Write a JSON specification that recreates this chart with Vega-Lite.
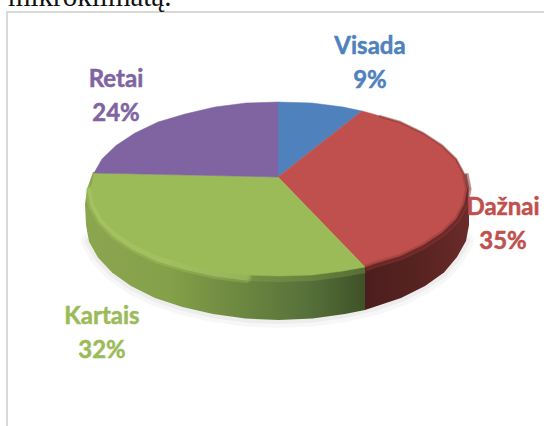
{
"$schema":"https://vega.github.io/schema/vega-lite/v6.json",
"width":544,"height":426,"padding":0,"autosize":"none",
"background":"white",
"view":{"stroke":null},
"projection":{"type":"identity","scale":1,"translate":[279,189]},
"datasets":{
"shapes":[
{"type":"Feature","properties":{"part":"shadow","label":"all"},"geometry":{"type":"LineString","coordinates":[[-190,52.5],[-181,68.5],[-167,83.5],[-148,97],[-124,109],[-96.5,118],[-66,125],[-33.5,129.5],[0,131],[33.5,129.5],[66,125],[96.5,118],[122,109],[146,97],[165,83.5],[178,68],[187,52]]}},
{"type":"Feature","properties":{"part":"wall","label":"Kartais"},"geometry":{"type":"Polygon","coordinates":[[[86,78],[86,121],[66,125],[33.5,129.5],[0,131],[-33.5,129.5],[-66,125],[-96.5,118],[-124,109],[-148,97],[-167,83.5],[-181,68.5],[-190,52.5],[-193,36],[-194,15],[-192,0],[-186,-17],[0,0],[86,78]]]}},
{"type":"Feature","properties":{"part":"wall","label":"Dažnai"},"geometry":{"type":"Polygon","coordinates":[[[86,78],[86,121],[122,109],[146,97],[165,83.5],[178,68],[187,52],[190,36],[190,15],[189,0],[185,-15],[177,-30],[100,0],[86,78]]]}},
{"type":"Feature","properties":{"part":"rim","label":"Kartais"},"geometry":{"type":"LineString","coordinates":[[-33,88],[-64,84],[-94,77],[-121,69],[-144,58],[-163,45],[-177,31],[-185,16],[-188,2]]}},
{"type":"Feature","properties":{"part":"rimdark","label":"Kartais"},"geometry":{"type":"LineString","coordinates":[[86,80],[64,84],[33,88],[0,89],[-33,88]]}},
{"type":"Feature","properties":{"part":"rim","label":"Dažnai"},"geometry":{"type":"LineString","coordinates":[[185,-15],[188,0],[185,15],[177,30],[163,43.5],[144,56],[121,67],[94,75],[86,78]]}},
{"type":"Feature","properties":{"part":"rimthin","label":"Dažnai"},"geometry":{"type":"LineString","coordinates":[[100,-73],[121,-67],[144,-56],[163,-43.5],[177,-30],[185,-15]]}},
{"type":"Feature","properties":{"part":"face","label":"Visada","value":9},"geometry":{"type":"Polygon","coordinates":[[[-1,-12],[-1,-87],[33,-86],[64,-82],[83,-78],[-1,-12]]]}},
{"type":"Feature","properties":{"part":"face","label":"Dažnai","value":35},"geometry":{"type":"Polygon","coordinates":[[[-1,-12],[83,-78],[94,-75],[121,-67],[144,-56],[163,-43.5],[177,-30],[185,-15],[188,0],[185,15],[177,30],[163,43.5],[144,56],[121,67],[94,75],[86,78],[-1,-12]]]}},
{"type":"Feature","properties":{"part":"face","label":"Kartais","value":32},"geometry":{"type":"Polygon","coordinates":[[[-1,-12],[86,78],[64,82],[33,86],[0,87],[-33,86],[-64,82],[-94,75],[-121,67],[-144,56],[-163,43.5],[-177,30],[-185,15],[-188,0],[-185,-16],[-1,-12]]]}},
{"type":"Feature","properties":{"part":"face","label":"Retai","value":24},"geometry":{"type":"Polygon","coordinates":[[[-1,-12],[-185,-16],[-177,-30],[-163,-43.5],[-144,-56],[-121,-67],[-94,-75],[-64,-82],[-33,-86],[-1,-87],[-1,-12]]]}},
{"type":"Feature","properties":{"part":"frame","label":"frame"},"geometry":{"type":"LineString","coordinates":[[-272,240],[-272,-177],[265,-177]]}}
],
"labels":[
{"label":"Visada","pct":"9%","lon":91,"lat":-125},
{"label":"Dažnai","pct":"35%","lon":224,"lat":36},
{"label":"Kartais","pct":"32%","lon":-177,"lat":145},
{"label":"Retai","pct":"24%","lon":-163,"lat":-92}
],
"caption":[{"text":"mikroklimatą.","lon":-271,"lat":-183}]
},
"layer":[
{"data":{"name":"shapes"},"transform":[{"filter":"datum.properties.part=='frame'"}],"mark":{"type":"geoshape","filled":false,"stroke":"#d9d9d9","strokeWidth":2}},
{"data":{"name":"shapes"},"transform":[{"filter":"datum.properties.part=='shadow'"}],"mark":{"type":"geoshape","filled":false,"stroke":"#000000","strokeOpacity":0.03,"strokeWidth":16,"strokeCap":"round"}},
{"data":{"name":"shapes"},"transform":[{"filter":"datum.properties.part=='shadow'"}],"mark":{"type":"geoshape","filled":false,"stroke":"#000000","strokeOpacity":0.04,"strokeWidth":8,"strokeCap":"round"}},
{"data":{"name":"shapes"},"transform":[{"filter":"datum.properties.part=='wall' && datum.properties.label=='Kartais'"}],"mark":{"type":"geoshape","fill":{"x1":0,"y1":0,"x2":1,"y2":0,"gradient":"linear","stops":[{"offset":0,"color":"#8ba64e"},{"offset":0.3,"color":"#84a049"},{"offset":0.55,"color":"#6d8840"},{"offset":0.8,"color":"#56703a"},{"offset":1,"color":"#3f5227"}]}}},
{"data":{"name":"shapes"},"transform":[{"filter":"datum.properties.part=='wall' && datum.properties.label=='Dažnai'"}],"mark":{"type":"geoshape","fill":{"x1":0,"y1":0,"x2":1,"y2":0,"gradient":"linear","stops":[{"offset":0,"color":"#4a1e1d"},{"offset":0.6,"color":"#5a2422"},{"offset":1,"color":"#6a2b29"}]}}},
{"data":{"name":"shapes"},"transform":[{"filter":"datum.properties.part=='rim' && datum.properties.label=='Kartais'"}],"mark":{"type":"geoshape","filled":false,"stroke":"#b5d56c","strokeOpacity":0.25,"strokeWidth":12,"strokeCap":"round"}},
{"data":{"name":"shapes"},"transform":[{"filter":"datum.properties.part=='rim' && datum.properties.label=='Kartais'"}],"mark":{"type":"geoshape","filled":false,"stroke":"#bfdc76","strokeOpacity":0.4,"strokeWidth":7,"strokeCap":"round"}},
{"data":{"name":"shapes"},"transform":[{"filter":"datum.properties.part=='rimdark'"}],"mark":{"type":"geoshape","filled":false,"stroke":"#93b050","strokeOpacity":0.3,"strokeWidth":8}},
{"data":{"name":"shapes"},"transform":[{"filter":"datum.properties.part=='rim' && datum.properties.label=='Dažnai'"}],"mark":{"type":"geoshape","filled":false,"stroke":"#8a3533","strokeOpacity":0.55,"strokeWidth":9}},
{"data":{"name":"shapes"},"transform":[{"filter":"datum.properties.part=='rim' && datum.properties.label=='Dažnai'"}],"mark":{"type":"geoshape","filled":false,"stroke":"#5a2422","strokeOpacity":0.5,"strokeWidth":5}},
{"data":{"name":"shapes"},"transform":[{"filter":"datum.properties.part=='face'"}],"mark":{"type":"geoshape","strokeWidth":0.5},"encoding":{"color":{"field":"properties.label","type":"nominal","legend":null,"scale":{"domain":["Visada","Dažnai","Kartais","Retai"],"range":["#4f81bd","#c0504d","#9bbb59","#8064a2"]}},"stroke":{"field":"properties.label","type":"nominal","legend":null,"scale":{"domain":["Visada","Dažnai","Kartais","Retai"],"range":["#4f81bd","#c0504d","#9bbb59","#8064a2"]}}}},
{"data":{"name":"shapes"},"transform":[{"filter":"datum.properties.part=='rim' && datum.properties.label=='Dažnai'"}],"mark":{"type":"geoshape","filled":false,"stroke":"#7a2f2d","strokeOpacity":0.3,"strokeWidth":4}},
{"data":{"name":"shapes"},"transform":[{"filter":"datum.properties.part=='rimthin'"}],"mark":{"type":"geoshape","filled":false,"stroke":"#7a2f2d","strokeOpacity":0.45,"strokeWidth":2.5}},
{"data":{"name":"labels"},"mark":{"type":"text","font":"Lato","fontWeight":"bold","fontSize":24,"dy":-17,"strokeWidth":0.5},"encoding":{"longitude":{"field":"lon","type":"quantitative"},"latitude":{"field":"lat","type":"quantitative"},"text":{"field":"label"},"color":{"field":"label","type":"nominal","legend":null,"scale":{"domain":["Visada","Dažnai","Kartais","Retai"],"range":["#4f81bd","#c0504d","#9bbb59","#8064a2"]}},"stroke":{"field":"label","type":"nominal","legend":null,"scale":{"domain":["Visada","Dažnai","Kartais","Retai"],"range":["#4f81bd","#c0504d","#9bbb59","#8064a2"]}}}},
{"data":{"name":"labels"},"mark":{"type":"text","font":"Lato","fontWeight":"bold","fontSize":24,"dy":17,"strokeWidth":0.5},"encoding":{"longitude":{"field":"lon","type":"quantitative"},"latitude":{"field":"lat","type":"quantitative"},"text":{"field":"pct"},"color":{"field":"label","type":"nominal","legend":null,"scale":{"domain":["Visada","Dažnai","Kartais","Retai"],"range":["#4f81bd","#c0504d","#9bbb59","#8064a2"]}},"stroke":{"field":"label","type":"nominal","legend":null,"scale":{"domain":["Visada","Dažnai","Kartais","Retai"],"range":["#4f81bd","#c0504d","#9bbb59","#8064a2"]}}}},
{"data":{"name":"caption"},"mark":{"type":"text","font":"Liberation Serif","fontSize":29,"align":"left","baseline":"alphabetic","color":"#111111"},"encoding":{"longitude":{"field":"lon","type":"quantitative"},"latitude":{"field":"lat","type":"quantitative"},"text":{"field":"text"}}}
]
}
